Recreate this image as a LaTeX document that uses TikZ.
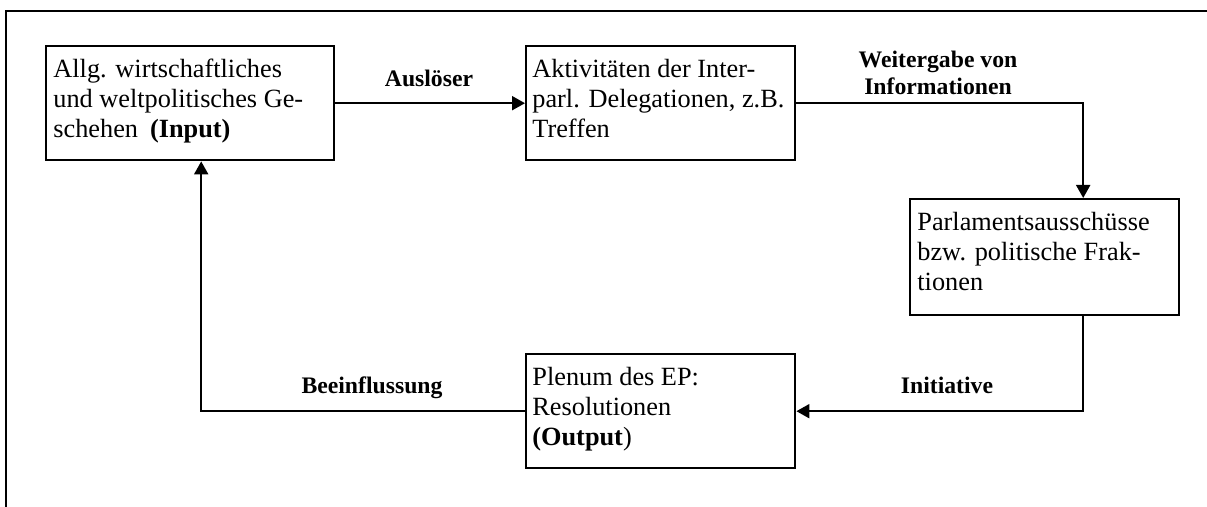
\documentclass[tikz,border=0pt]{standalone}
\usepackage{fontspec}
\setmainfont{Liberation Serif}
\usetikzlibrary{arrows.meta}
\begin{document}
\begin{tikzpicture}[x=0.5pt,y=-0.5pt,
  box/.style={draw, line width=1.2pt, inner sep=0pt, anchor=north west},
  boxtext/.style={anchor=north west, inner sep=0pt, align=left,
    font=\fontsize{13.15pt}{15pt}\selectfont},
  lbl/.style={inner sep=0pt, font=\fontsize{11.85pt}{13.25pt}\selectfont\bfseries},
  conn/.style={line width=1pt, -{Triangle[length=6.5pt,width=7pt]}}]
\useasboundingbox (0,0) rectangle (1207,507);
% frame
\draw[line width=1.2pt] (6,507) -- (6,11) -- (1207,11);
% boxes
\node[box, minimum width=144pt, minimum height=57pt] (b1) at (45,45) {};
\node[box, minimum width=134.5pt, minimum height=57pt] (b2) at (525,45) {};
\node[box, minimum width=134.5pt, minimum height=58pt] (b3) at (909,198) {};
\node[box, minimum width=134.5pt, minimum height=57pt] (b4) at (525,353) {};
% box texts
\node[boxtext] (t1) at ([xshift=4pt,yshift=-7pt]b1.north west)
  {Allg. wirtschaftliches\\und weltpolitisches Ge-\\schehen\hspace{6pt}\textbf{(Input)}};
\node[boxtext] (t2) at ([xshift=3.5pt,yshift=-7pt]b2.north west)
  {Aktivitäten der Inter-\\parl. Delegationen, z.B.\\Treffen};
\node[boxtext] (t3) at ([xshift=4pt,yshift=-7pt]b3.north west)
  {Parlamentsausschüsse\\bzw. politische Frak-\\tionen};
\node[boxtext] (t4) at ([xshift=3.5pt,yshift=-7pt]b4.north west)
  {Plenum des EP:\\Resolutionen\\\textbf{(Output})};
% connectors
\draw[conn] (b1.east) -- (b2.west);
\draw[conn] (b2.east) -| ([xshift=19.25pt]b3.north);
\draw[conn] ([xshift=19.25pt]b3.south) |- (b4.east);
\draw[conn] (b4.west) -| ([xshift=5.5pt]b1.south);
% labels
\node[lbl, anchor=base] (l1) at (429,87) {Auslöser};
\node[lbl, anchor=north, align=center] (l2) at (938,51) {Weitergabe von\\Informationen};
\node[lbl, anchor=base] (l3) at (947,394) {Initiative};
\node[lbl, anchor=base] (l4) at (372,394) {Beeinflussung};
\end{tikzpicture}
\end{document}
